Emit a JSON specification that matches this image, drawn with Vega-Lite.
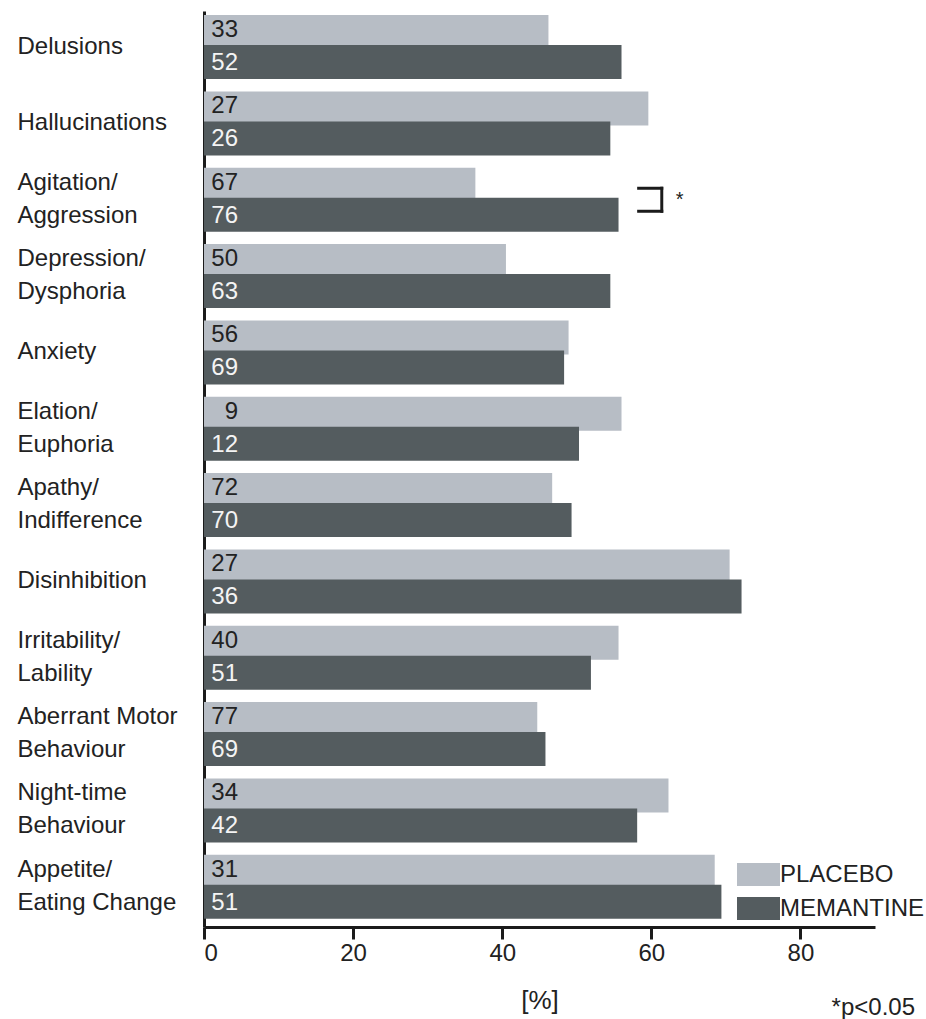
{
  "$schema": "https://vega.github.io/schema/vega-lite/v6.json",
  "width": 671,
  "height": 916,
  "autosize": {"type": "none"},
  "padding": {"left": 204, "top": 11, "right": 51, "bottom": 92},
  "background": "white",
  "config": {
    "view": {"stroke": null},
    "font": "Liberation Sans",
    "text": {"font": "Liberation Sans"}
  },
  "title": {
    "text": "*p<0.05",
    "orient": "bottom",
    "anchor": "end",
    "frame": "group",
    "offset": -17,
    "dx": 40,
    "fontSize": 24,
    "fontWeight": "normal",
    "color": "#222222"
  },
  "data": {
    "values": [
      {"symptom": "Delusions", "series": "PLACEBO", "pct": 46.2, "n": 33},
      {"symptom": "Delusions", "series": "MEMANTINE", "pct": 56.0, "n": 52},
      {"symptom": "Hallucinations", "series": "PLACEBO", "pct": 59.6, "n": 27},
      {"symptom": "Hallucinations", "series": "MEMANTINE", "pct": 54.5, "n": 26},
      {"symptom": "Agitation/|Aggression", "series": "PLACEBO", "pct": 36.4, "n": 67},
      {"symptom": "Agitation/|Aggression", "series": "MEMANTINE", "pct": 55.6, "n": 76},
      {"symptom": "Depression/|Dysphoria", "series": "PLACEBO", "pct": 40.5, "n": 50},
      {"symptom": "Depression/|Dysphoria", "series": "MEMANTINE", "pct": 54.5, "n": 63},
      {"symptom": "Anxiety", "series": "PLACEBO", "pct": 48.9, "n": 56},
      {"symptom": "Anxiety", "series": "MEMANTINE", "pct": 48.3, "n": 69},
      {"symptom": "Elation/|Euphoria", "series": "PLACEBO", "pct": 56.0, "n": 9},
      {"symptom": "Elation/|Euphoria", "series": "MEMANTINE", "pct": 50.3, "n": 12},
      {"symptom": "Apathy/|Indifference", "series": "PLACEBO", "pct": 46.7, "n": 72},
      {"symptom": "Apathy/|Indifference", "series": "MEMANTINE", "pct": 49.3, "n": 70},
      {"symptom": "Disinhibition", "series": "PLACEBO", "pct": 70.5, "n": 27},
      {"symptom": "Disinhibition", "series": "MEMANTINE", "pct": 72.1, "n": 36},
      {"symptom": "Irritability/|Lability", "series": "PLACEBO", "pct": 55.6, "n": 40},
      {"symptom": "Irritability/|Lability", "series": "MEMANTINE", "pct": 51.9, "n": 51},
      {"symptom": "Aberrant Motor|Behaviour", "series": "PLACEBO", "pct": 44.7, "n": 77},
      {"symptom": "Aberrant Motor|Behaviour", "series": "MEMANTINE", "pct": 45.8, "n": 69},
      {"symptom": "Night-time|Behaviour", "series": "PLACEBO", "pct": 62.3, "n": 34},
      {"symptom": "Night-time|Behaviour", "series": "MEMANTINE", "pct": 58.1, "n": 42},
      {"symptom": "Appetite/|Eating Change", "series": "PLACEBO", "pct": 68.5, "n": 31},
      {"symptom": "Appetite/|Eating Change", "series": "MEMANTINE", "pct": 69.4, "n": 51}
    ]
  },
  "encoding": {
    "y": {
      "field": "symptom",
      "type": "nominal",
      "scale": {
        "domain": ["Delusions", "Hallucinations", "Agitation/|Aggression", "Depression/|Dysphoria", "Anxiety", "Elation/|Euphoria", "Apathy/|Indifference", "Disinhibition", "Irritability/|Lability", "Aberrant Motor|Behaviour", "Night-time|Behaviour", "Appetite/|Eating Change"],
        "paddingInner": 0.16,
        "paddingOuter": 0.08,
        "align": 0.33
      },
      "axis": {
        "title": null,
        "ticks": false,
        "tickSize": 0,
        "labelAlign": "left",
        "labelBaseline": {
          "condition": {"test": "indexof(datum.value, '|') >= 0", "value": "line-bottom"},
          "value": "middle"
        },
        "labelPadding": 187,
        "labelFontSize": 24,
        "labelLineHeight": 33,
        "labelLimit": 400,
        "labelColor": "#222222",
        "labelExpr": "split(datum.label, '|')",
        "domainColor": "#1b1b1b",
        "domainWidth": 3
      }
    }
  },
  "layer": [
    {
      "transform": [{"filter": "datum.series === 'PLACEBO'"}],
      "mark": {"type": "bar", "height": {"band": 0.53125}, "yOffset": -15},
      "encoding": {
        "x": {
          "field": "pct",
          "type": "quantitative",
          "scale": {"domain": [0, 90], "nice": false},
          "axis": {
            "values": [0, 20, 40, 60, 80],
            "title": "[%]",
            "grid": false,
            "domainColor": "#1b1b1b",
            "domainWidth": 3,
            "tickColor": "#1b1b1b",
            "tickWidth": 3,
            "tickSize": 12,
            "labelFontSize": 24,
            "labelPadding": 2,
            "labelColor": "#222222",
            "titleFontSize": 26,
            "titleFontWeight": "normal",
            "titleColor": "#222222",
            "titlePadding": 22
          }
        },
        "color": {
          "field": "series",
          "type": "nominal",
          "scale": {"domain": ["PLACEBO", "MEMANTINE"], "range": ["#b7bdc5", "#545c5f"]},
          "legend": {
            "orient": "none",
            "legendX": 533,
            "legendY": 842,
            "title": null,
            "padding": 0,
            "symbolType": "M-1,-0.535H1V0.535H-1Z",
            "symbolSize": 1849,
            "symbolStrokeWidth": 0,
            "symbolOpacity": 1,
            "labelFontSize": 24,
            "labelOffset": 0,
            "labelLimit": 300,
            "labelColor": "#222222",
            "rowPadding": 0
          }
        }
      }
    },
    {
      "transform": [{"filter": "datum.series === 'MEMANTINE'"}],
      "mark": {"type": "bar", "height": {"band": 0.53125}, "yOffset": 15},
      "encoding": {
        "x": {"field": "pct", "type": "quantitative"},
        "color": {"field": "series", "type": "nominal"}
      }
    },
    {
      "transform": [{"filter": "datum.series === 'PLACEBO'"}],
      "mark": {"type": "text", "align": "right", "baseline": "middle", "dx": 34, "yOffset": -17, "fontSize": 24, "color": "#222222"},
      "encoding": {
        "x": {"datum": 0, "type": "quantitative"},
        "text": {"field": "n"}
      }
    },
    {
      "transform": [{"filter": "datum.series === 'MEMANTINE'"}],
      "mark": {"type": "text", "align": "right", "baseline": "middle", "dx": 34, "yOffset": 16, "fontSize": 24, "color": "#f4f4f4"},
      "encoding": {
        "x": {"datum": 0, "type": "quantitative"},
        "text": {"field": "n"}
      }
    },
    {
      "data": {"values": [{"symptom": "Agitation/|Aggression", "from": 58.3, "to": 61.4}]},
      "mark": {"type": "rule", "color": "#1b1b1b", "strokeWidth": 3, "strokeCap": "square", "yOffset": -11.5},
      "encoding": {
        "x": {"field": "from", "type": "quantitative"},
        "x2": {"field": "to"}
      }
    },
    {
      "data": {"values": [{"symptom": "Agitation/|Aggression", "from": 58.3, "to": 61.4}]},
      "mark": {"type": "rule", "color": "#1b1b1b", "strokeWidth": 3, "strokeCap": "square", "yOffset": 11.5},
      "encoding": {
        "x": {"field": "from", "type": "quantitative"},
        "x2": {"field": "to"}
      }
    },
    {
      "data": {"values": [{"symptom": "Agitation/|Aggression", "from": 61.2, "to": 61.6}]},
      "mark": {"type": "bar", "color": "#1b1b1b", "height": {"band": 0.406}},
      "encoding": {
        "x": {"field": "from", "type": "quantitative"},
        "x2": {"field": "to"}
      }
    },
    {
      "data": {"values": [{"symptom": "Agitation/|Aggression", "pct": 63.8, "note": "*"}]},
      "mark": {"type": "text", "align": "center", "baseline": "middle", "fontSize": 20, "color": "#222222"},
      "encoding": {
        "x": {"field": "pct", "type": "quantitative"},
        "text": {"field": "note"}
      }
    }
  ]
}
